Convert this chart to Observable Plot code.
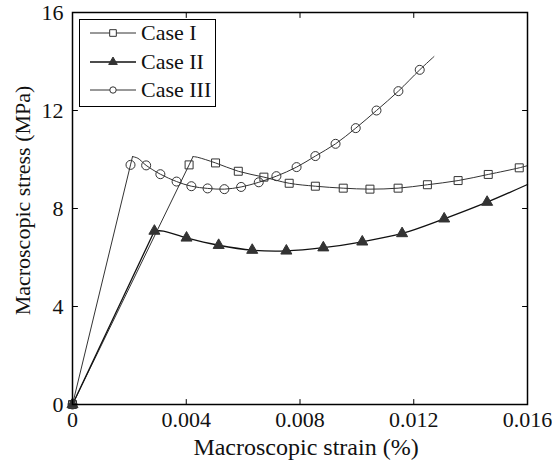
<!DOCTYPE html>
<html><head><meta charset="utf-8">
<script src="https://cdn.jsdelivr.net/npm/d3@7"></script>
<script src="https://cdn.jsdelivr.net/npm/@observablehq/plot@0.6"></script>
<style>
body{margin:0;background:#fff;}
#wrap{position:relative;width:552px;height:466px;font-family:'Liberation Serif','DejaVu Serif',serif;}
#legend{position:absolute;left:79px;top:19px;width:137px;height:88px;border:1px solid #000;background:#fff;box-sizing:border-box;}
.row{position:absolute;left:10px;display:flex;align-items:center;height:24px;}
.row span{font-size:22px;margin-left:5px;color:#111;line-height:24px;font-family:'Liberation Serif','DejaVu Serif',serif;}
</style></head><body><div id="wrap"><div id="legend"></div></div>
<script>
// ---- data ----
const xTicks = [0, 0.004, 0.008, 0.012, 0.016];
const yTicks = [0, 4, 8, 12, 16];
const xTitle = "Macroscopic strain (%)";
const yTitle = "Macroscopic stress (MPa)";
const seriesNames = ["Case I", "Case II", "Case III"];
const seriesSymbols = ["square", "triangle", "circle"];

// Case I (squares)
const caseI_strain = [0, 0.0041, 0.00503, 0.00583, 0.00673, 0.00762, 0.00854, 0.00952, 0.01046, 0.01145, 0.01248, 0.01356, 0.01462, 0.01571];
const caseI_stress = [0, 9.78, 9.86, 9.52, 9.28, 9.03, 8.91, 8.83, 8.79, 8.83, 8.97, 9.14, 9.39, 9.66];
const caseI_peak = [0.00424, 10.12];
const caseI_shoulder = [0.0044, 10.09];
const caseI_end = [0.016, 9.75];

// Case II (triangles)
const caseII_strain = [0, 0.00288, 0.00401, 0.00514, 0.00632, 0.00752, 0.00882, 0.01019, 0.01159, 0.01307, 0.01458];
const caseII_stress = [0, 7.08, 6.80, 6.50, 6.30, 6.27, 6.40, 6.64, 6.98, 7.58, 8.26];
const caseII_peak = [0.00288, 7.08];
const caseII_shoulder = [0.0032, 7.08];
const caseII_end = [0.016, 8.98];

// Case III (circles)
const caseIII_strain = [0, 0.00204, 0.00259, 0.00309, 0.00366, 0.00418, 0.00475, 0.00534, 0.00593, 0.00655, 0.00717, 0.00788, 0.00854, 0.00925, 0.00996, 0.01069, 0.01146, 0.01221];
const caseIII_stress = [0, 9.78, 9.76, 9.40, 9.10, 8.91, 8.82, 8.79, 8.88, 9.07, 9.32, 9.69, 10.14, 10.64, 11.28, 12.0, 12.79, 13.66];
const caseIII_peak = [0.00211, 10.12];
const caseIII_shoulder = [0.0023, 10.05];
const caseIII_end = [0.01271, 14.2];

// ---- build tables ----
function build(name, sx, sy, peak, shoulder, end) {
  const markers = sx.map((x, i) => ({name, x, y: sy[i]}));
  const pts = markers.concat([{name, x: peak[0], y: peak[1]}, {name, x: shoulder[0], y: shoulder[1]}, {name, x: end[0], y: end[1]}])
    .sort((a, b) => a.x - b.x);
  const rise = pts.filter(d => d.x <= peak[0]);
  const fall = pts.filter(d => d.x >= peak[0]);
  return {markers, rise, fall};
}
const S = [
  build(seriesNames[0], caseI_strain, caseI_stress, caseI_peak, caseI_shoulder, caseI_end),
  build(seriesNames[1], caseII_strain, caseII_stress, caseII_peak, caseII_shoulder, caseII_end),
  build(seriesNames[2], caseIII_strain, caseIII_stress, caseIII_peak, caseIII_shoulder, caseIII_end)
];
const lineColor = ["#333", "#111", "#333"];
const lineWidth = [1, 1.3, 1];
const dotR = [4.5, 4.1, 4.5];

const tickShape = {draw(context, l) { context.moveTo(0, 0); context.lineTo(0, -l); }};
const fmtX = d => d === 0 ? "0" : d.toFixed(3);
const FONT = "'Liberation Serif', 'DejaVu Serif', serif";

const marks = [];
S.forEach((s, i) => {
  marks.push(Plot.line(s.rise, {x: "x", y: "y", stroke: lineColor[i], strokeWidth: lineWidth[i]}));
  marks.push(Plot.line(s.fall, {x: "x", y: "y", stroke: lineColor[i], strokeWidth: lineWidth[i], curve: "catmull-rom"}));
});
S.forEach((s, i) => {
  const sym = seriesSymbols[i];
  marks.push(Plot.dot(s.markers, {x: "x", y: "y", symbol: () => sym, r: dotR[i],
    stroke: "#333", strokeWidth: 1, fill: sym === "triangle" ? "#333" : "none"}));
});
marks.push(Plot.frame({stroke: "#000", strokeWidth: 1.5}));
const inner = xTicks.slice(1, -1), innerY = yTicks.slice(1, -1);
const tk = {length: 5, anchor: "start", shape: tickShape, stroke: "#000", strokeWidth: 1};
marks.push(Plot.vector(inner, {x: d => d, y: () => yTicks[0], rotate: 0, ...tk}));
marks.push(Plot.vector(inner, {x: d => d, y: () => yTicks[yTicks.length - 1], rotate: 180, ...tk}));
marks.push(Plot.vector(innerY, {x: () => xTicks[0], y: d => d, rotate: 90, ...tk}));
marks.push(Plot.vector(innerY, {x: () => xTicks[xTicks.length - 1], y: d => d, rotate: -90, ...tk}));
marks.push(Plot.axisX({ticks: xTicks, tickSize: 0, tickPadding: 7, tickFormat: fmtX, fontFamily: FONT, fontSize: 22,
  label: null}));
marks.push(Plot.axisY({ticks: yTicks, tickSize: 0, tickPadding: 9, tickFormat: d => String(d), fontFamily: FONT, fontSize: 22,
  label: null}));
marks.push(Plot.text([xTitle], {text: d => d, frameAnchor: "bottom", textAnchor: "middle", lineAnchor: "middle",
  dy: 43, dx: 6, fontSize: 24, fontFamily: FONT, fill: "#111"}));
marks.push(Plot.text([yTitle], {text: d => d, frameAnchor: "left", rotate: -90, textAnchor: "middle", lineAnchor: "middle",
  dx: -50, dy: -8, fontSize: 22, fontFamily: FONT, fill: "#111"}));

const chart = Plot.plot({
  width: 552, height: 466,
  marginLeft: 72, marginRight: 25, marginTop: 12, marginBottom: 62,
  x: {domain: [xTicks[0], xTicks[xTicks.length - 1]]},
  y: {domain: [yTicks[0], yTicks[yTicks.length - 1]]},
  style: {fontFamily: FONT, fontSize: "22px", color: "#111", background: "#fff"},
  marks
});
document.getElementById("wrap").prepend(chart);

// ---- legend ----
const legend = document.getElementById("legend");
const symMap = {square: d3.symbolSquare, triangle: d3.symbolTriangle, circle: d3.symbolCircle};
const legSize = {square: 44, triangle: 32, circle: 32};
const rowCenters = [14, 43, 71];
seriesNames.forEach((name, i) => {
  const row = document.createElement("div");
  row.className = "row";
  row.style.top = (rowCenters[i] - 12 - 1) + "px";
  const sym = seriesSymbols[i];
  const path = d3.symbol(symMap[sym], legSize[sym])();
  row.innerHTML = `<svg width="46" height="24"><line x1="0" x2="46" y1="12" y2="12" stroke="${lineColor[i]}" stroke-width="${lineWidth[i]}"/>` +
    `<path d="${path}" transform="translate(23,12)" fill="${sym === "triangle" ? "#333" : "#fff"}" stroke="#333"/></svg><span>${name}</span>`;
  legend.appendChild(row);
});
</script></body></html>
